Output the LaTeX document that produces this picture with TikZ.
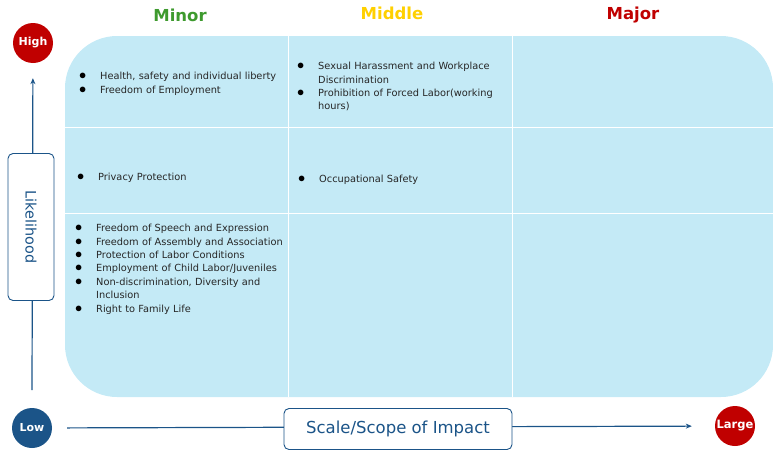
\documentclass[tikz,border=0pt]{standalone}
\usepackage{fontspec}
\setmainfont{DejaVu Sans}
\usepackage{enumitem}
\usetikzlibrary{arrows.meta}

\definecolor{cellblue}{HTML}{C4EAF6}
\definecolor{axisblue}{HTML}{1B5488}
\definecolor{riskred}{HTML}{C00000}
\definecolor{minorgreen}{HTML}{3E9A2E}
\definecolor{middleyellow}{HTML}{FFD000}
\definecolor{celltext}{HTML}{262626}

\newcommand{\risklist}[1]{%
  \begin{itemize}[leftmargin=22pt,labelsep=14pt,itemsep=0pt,topsep=0pt,parsep=0pt,partopsep=0pt,label={\Large\color{black}$\bullet$}]
  #1
  \end{itemize}}

\begin{document}
\begin{tikzpicture}[
            x = 1pt, y = -1pt, % pixel grid, y downwards
            > = {Stealth[length=6pt,width=5pt]}, % arrow head style
            level/.style = {circle, fill = #1, text = white, font = \bfseries\fontsize{11}{13}\selectfont,
                            minimum size = 40pt, inner sep = 0pt},
            axisbox/.style = {draw = axisblue, fill = white, rounded corners = 5pt, line width = 0.9pt,
                              text = axisblue},
            header/.style = {font = \bfseries\fontsize{16.5}{19}\selectfont},
            cell/.style = {anchor = north west, text width = 240pt, inner sep = 0pt, text = celltext,
                           font = \fontsize{9.8}{13.4}\selectfont},
            grid/.style = {white, line width = 1pt},
            axis/.style = {axisblue, line width = 1.2pt}
        ]

        \useasboundingbox (0,0) rectangle (773,450);

        % risk matrix background
        \fill[cellblue, rounded corners = 52pt] (65,36) rectangle (773,397);
        \draw[grid] (288,36) -- (288,397);
        \draw[grid] (512,36) -- (512,397);
        \draw[grid] (65,127) -- (773,127);
        \draw[grid] (65,213) -- (773,213);

        % column headers
        \node[header, text = minorgreen] (minor) at (180,15) {Minor};
        \node[header, text = middleyellow] (middle) at (392,13) {Middle};
        \node[header, text = riskred] (major) at (633,15) {Major};

        % axis end points
        \node[level = riskred] (high) at (33,43) {High};
        \node[level = axisblue] (low) at (32,428) {Low};
        \node[level = riskred, font = \bfseries\fontsize{11.5}{14}\selectfont] (large) at (735,426) {Large};
        \coordinate (vstart) at (32,390);

        \draw[axis, ->, shorten > = 15pt] (vstart) -- (high);
        \draw[axis, ->, shorten < = 15pt, shorten > = 23pt] (low) -- (large);

        \node[axisbox, minimum width = 46pt, minimum height = 147pt] (likely) at (31,227) {};
        \node[text = axisblue, font = \fontsize{14.4}{17}\selectfont, rotate = -90] (likelytext) at (likely) {Likelihood};
        \node[axisbox, font = \fontsize{16.5}{19}\selectfont, minimum width = 228pt, minimum height = 41pt] (scope) at (398,429) {Scale/Scope of Impact};

        % cell contents
        \node[cell] (c11) at (78,66) {\risklist{\item Health, safety and individual liberty
            \item Freedom of Employment}};
        \node[cell] (c21) at (296,56) {\risklist{\item Sexual Harassment and Workplace\newline Discrimination
            \item Prohibition of Forced Labor(working\newline hours)}};
        \node[cell] (c12) at (76,167) {\risklist{\item Privacy Protection}};
        \node[cell] (c22) at (297,169) {\risklist{\item Occupational Safety}};
        \node[cell] (c13) at (74,218) {\risklist{\item Freedom of Speech and Expression
            \item Freedom of Assembly and Association
            \item Protection of Labor Conditions
            \item Employment of Child Labor/Juveniles
            \item Non-discrimination, Diversity and\newline Inclusion
            \item Right to Family Life}};

\end{tikzpicture}
\end{document}
